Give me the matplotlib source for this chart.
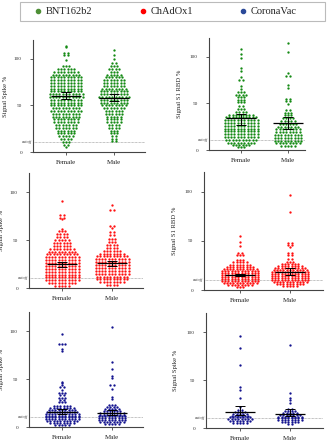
import numpy as np
import matplotlib.pyplot as plt
from matplotlib.lines import Line2D
from matplotlib.patches import Rectangle

plt.rcParams['font.family'] = ['Liberation Serif', 'DejaVu Serif']

groups = ["Female", "Male"]
vaccines = ["BNT162b2", "ChAdOx1", "CoronaVac"]
cutoff = 10.5

# each swarm is stored as row values and dots per row
bnt_spike_f_lv = [114, 112, 106, 104, 99, 92, 89, 86, 83, 80, 77, 74, 71, 68, 65, 62, 59, 56, 53, 50,
                  47, 44, 41, 38, 35, 32, 29, 26, 23, 20, 17, 14, 11, 8, 5]
bnt_spike_f_n = [1, 1, 2, 2, 1, 3, 6, 8, 9, 10, 10, 10, 10, 10, 10, 11, 11, 10, 10, 10,
                 9, 10, 9, 9, 8, 8, 7, 7, 6, 6, 5, 4, 3, 2, 1]
bnt_spike_m_lv = [109, 104, 100, 95, 92, 89, 86, 83, 80, 77, 74, 71, 68, 65, 62, 59, 56, 53, 50, 47,
                  44, 41, 38, 35, 32, 29, 26, 23, 20, 17, 14, 12]
bnt_spike_m_n = [1, 1, 1, 2, 3, 4, 3, 5, 6, 7, 7, 7, 8, 9, 9, 10, 9, 9, 8, 7,
                 6, 6, 5, 5, 5, 4, 4, 3, 3, 2, 2, 2]

bnt_rbd_f_lv = [108, 103, 99, 88, 85, 78, 75, 69, 65, 62, 59, 57, 54, 51, 47, 44, 41, 38, 35, 32,
                29, 26, 23, 20, 17, 14, 11, 8, 5, 3]
bnt_rbd_f_n = [1, 1, 1, 1, 1, 1, 2, 1, 1, 3, 4, 3, 3, 3, 2, 3, 4, 8, 10, 11,
               11, 11, 11, 11, 11, 11, 10, 9, 6, 3]
bnt_rbd_m_lv = [115, 105, 82, 79, 70, 66, 55, 52, 49, 43, 40, 37, 34, 31, 28, 25, 22, 19, 16, 13,
                10, 7, 4]
bnt_rbd_m_n = [1, 1, 1, 2, 1, 1, 2, 2, 1, 2, 3, 3, 4, 5, 6, 7, 8, 8, 9, 9,
               9, 8, 5]

chad_spike_f_lv = [91, 76, 73, 72, 62, 59, 56, 53, 50, 47, 44, 41, 38, 35, 32, 29, 26, 23, 20, 17,
                   14, 11, 8, 5, 2]
chad_spike_f_n = [1, 2, 2, 1, 1, 3, 4, 4, 5, 6, 6, 8, 9, 10, 11, 11, 11, 11, 11, 11,
                  11, 11, 11, 9, 5]
chad_spike_m_lv = [87, 81, 65, 63, 58, 55, 51, 48, 45, 42, 39, 36, 33, 30, 27, 24, 21, 18, 15, 12,
                   9, 6, 3]
chad_spike_m_n = [1, 2, 2, 1, 2, 2, 3, 3, 4, 4, 6, 8, 10, 11, 11, 11, 11, 11, 11, 10,
                  10, 8, 4]

chad_rbd_f_lv = [55, 49, 45, 38, 36, 31, 28, 25, 23, 21, 19, 17, 15, 13, 11, 9, 7, 5, 3]
chad_rbd_f_n = [1, 1, 1, 2, 3, 3, 5, 7, 9, 11, 12, 12, 12, 12, 12, 12, 11, 8, 3]
chad_rbd_m_lv = [97, 79, 48, 46, 44, 38, 36, 32, 28, 26, 24, 22, 20, 18, 16, 14, 12, 10, 8, 6, 4]
chad_rbd_m_n = [1, 1, 2, 2, 1, 2, 2, 2, 3, 6, 8, 10, 11, 12, 12, 12, 12, 12, 11, 9, 5]

cv_spike_f_lv = [97, 87, 81, 79, 47, 46, 44, 42, 39, 35, 33, 30, 28, 26, 22, 20, 18, 16, 14, 12,
                 10, 8, 6, 4, 2]
cv_spike_f_n = [1, 3, 1, 1, 1, 1, 1, 2, 1, 3, 2, 3, 2, 3, 6, 8, 9, 10, 11, 11,
                11, 11, 10, 8, 5]
cv_spike_m_lv = [104, 68, 61, 53, 51, 44, 40, 31, 29, 23, 21, 19, 17, 15, 13, 11, 9, 7, 5, 3]
cv_spike_m_n = [1, 1, 1, 1, 1, 2, 1, 1, 1, 3, 4, 5, 6, 8, 8, 9, 9, 9, 8, 5]

cv_s2_f_lv = [96, 84, 66, 43, 40, 31, 22, 19, 17, 15, 13, 11, 9, 7, 5]
cv_s2_f_n = [1, 1, 1, 1, 1, 1, 1, 2, 4, 5, 6, 7, 8, 7, 5]
cv_s2_m_lv = [87, 37, 31, 29, 26, 20, 18, 16, 14, 12, 10, 8, 6, 4]
cv_s2_m_n = [1, 1, 1, 1, 1, 2, 4, 5, 7, 8, 8, 8, 6, 2]

# median line and 95% CI per panel, (Female, Male)
bnt_spike_mid, bnt_spike_lo, bnt_spike_hi = [60, 58.3], [56.5, 54.3], [63.8, 62.3]
bnt_rbd_mid, bnt_rbd_lo, bnt_rbd_hi = [33.9, 28.6], [26.8, 22], [38.6, 35]
chad_spike_mid, chad_spike_lo, chad_spike_hi = [24.6, 25.7], [21.8, 22.9], [26.8, 28.2]
chad_rbd_mid, chad_rbd_lo, chad_rbd_hi = [15.6, 18.3], [14.2, 14.9], [16.6, 22.4]
cv_spike_mid, cv_spike_lo, cv_spike_hi = [15.7, 14.7], [14, 12.2], [19.2, 18.2]
cv_s2_mid, cv_s2_lo, cv_s2_hi = [16.8, 14.7], [14, 12.3], [22.8, 20]

green, red, blue = "#138a13", "#ff1010", "#12128f"

W, H = 327, 440
fig = plt.figure(figsize=(W / 100, H / 100), dpi=100)

# pixel boxes: left, right, top, zero line, Female x, Male x, ylabel x
panels = [
    (33, 145, 40, 152, 66, 114, 8, "Signal Spike %", green,
     (bnt_spike_f_lv, bnt_spike_f_n), (bnt_spike_m_lv, bnt_spike_m_n),
     bnt_spike_mid, bnt_spike_lo, bnt_spike_hi),
    (209, 305, 38, 150, 241, 288, 182, "Signal S1 RBD %", green,
     (bnt_rbd_f_lv, bnt_rbd_f_n), (bnt_rbd_m_lv, bnt_rbd_m_n),
     bnt_rbd_mid, bnt_rbd_lo, bnt_rbd_hi),
    (29, 143, 173, 288, 62, 112, 4, "Signal Spike %", red,
     (chad_spike_f_lv, chad_spike_f_n), (chad_spike_m_lv, chad_spike_m_n),
     chad_spike_mid, chad_spike_lo, chad_spike_hi),
    (204, 323, 172, 290, 240, 290, 177, "Signal S1 RBD %", red,
     (chad_rbd_f_lv, chad_rbd_f_n), (chad_rbd_m_lv, chad_rbd_m_n),
     chad_rbd_mid, chad_rbd_lo, chad_rbd_hi),
    (29, 143, 312, 427, 62, 112, 4, "Signal Spike %", blue,
     (cv_spike_f_lv, cv_spike_f_n), (cv_spike_m_lv, cv_spike_m_n),
     cv_spike_mid, cv_spike_lo, cv_spike_hi),
    (206, 323, 313, 428, 240, 290, 178, "Signal Spike %", blue,
     (cv_s2_f_lv, cv_s2_f_n), (cv_s2_m_lv, cv_s2_m_n),
     cv_s2_mid, cv_s2_lo, cv_s2_hi),
]

axis_col = "#444444"
for (l, r, t, z, xf, xm, xl, ylab, col, fdat, mdat, mid, lo, hi) in panels:
    ax = fig.add_axes([l / W, 1 - z / H, (r - l) / W, (z - t) / H])
    # x scale so Female/Male land where they do in the picture
    span = (r - l) / (xm - xf)
    x0 = -(xf - l) / (xm - xf)
    ax.set_xlim(x0, x0 + span)
    ax.set_ylim(0, 120)
    upp = span / (r - l)  # data units per pixel
    dot = 3.3 * upp
    for gi, (lv, n) in enumerate([fdat, mdat]):
        xs, ys = [], []
        for v, k in zip(lv, n):
            off = (np.arange(k) - (k - 1) / 2) * dot
            xs.extend(gi + off)
            ys.extend([v] * k)
        ax.scatter(xs, ys, s=2.8, color=col, linewidths=0, clip_on=False, zorder=2)
        ax.hlines(mid[gi], gi - 15 * upp, gi + 15 * upp, color="black", lw=0.9, zorder=3)
        ax.vlines(gi, lo[gi], hi[gi], color="black", lw=0.7, zorder=3)
        ax.hlines([lo[gi], hi[gi]], gi - 5 * upp, gi + 5 * upp, color="black", lw=0.7, zorder=3)
    ax.axhline(cutoff, color="#888888", lw=0.5, ls=(0, (1, 1)), zorder=1)
    ax.text(-0.01, cutoff, "cutoff", transform=ax.get_yaxis_transform(), ha="right",
            va="center", fontsize=3.2, color="#333333", style="italic")
    for s in ["top", "right"]:
        ax.spines[s].set_visible(False)
    for s in ["left", "bottom"]:
        ax.spines[s].set_color(axis_col)
        ax.spines[s].set_linewidth(0.8)
    ax.set_yticks([0, 50, 100])
    ax.set_yticklabels(["0", "50", "100"])
    ax.set_xticks([0, 1])
    ax.set_xticklabels(groups)
    ax.tick_params(axis="y", labelsize=3.8, length=2, width=0.6, color=axis_col, pad=6, labelcolor="#333333")
    ax.tick_params(axis="x", labelsize=5, length=2, width=0.6, color=axis_col, pad=4, labelcolor="#222222")
    ax.set_ylabel(ylab, fontsize=4.8, color="#222222")
    ax.yaxis.set_label_coords((xl - l) / (r - l), 0.5)

# legend box drawn by hand so entries sit where they do in the picture
fig.add_artist(Rectangle((20 / W, 1 - 21 / H), 305 / W, 19 / H, transform=fig.transFigure,
                         facecolor="white", edgecolor="#bbbbbb", lw=0.8))
leg_cols = ["#4e8f36", "#ff0000", "#2b4a99"]
leg_dot_x = [38, 143, 243]
for name, c, px in zip(vaccines, leg_cols, leg_dot_x):
    fig.add_artist(Line2D([px / W], [1 - 11 / H], transform=fig.transFigure, ls="",
                          marker="o", ms=3, color=c))
    fig.text((px + 8) / W, 1 - 11 / H, name, fontsize=7.5, va="center", ha="left", color="#222222")

fig.savefig("out.png", dpi=100)
